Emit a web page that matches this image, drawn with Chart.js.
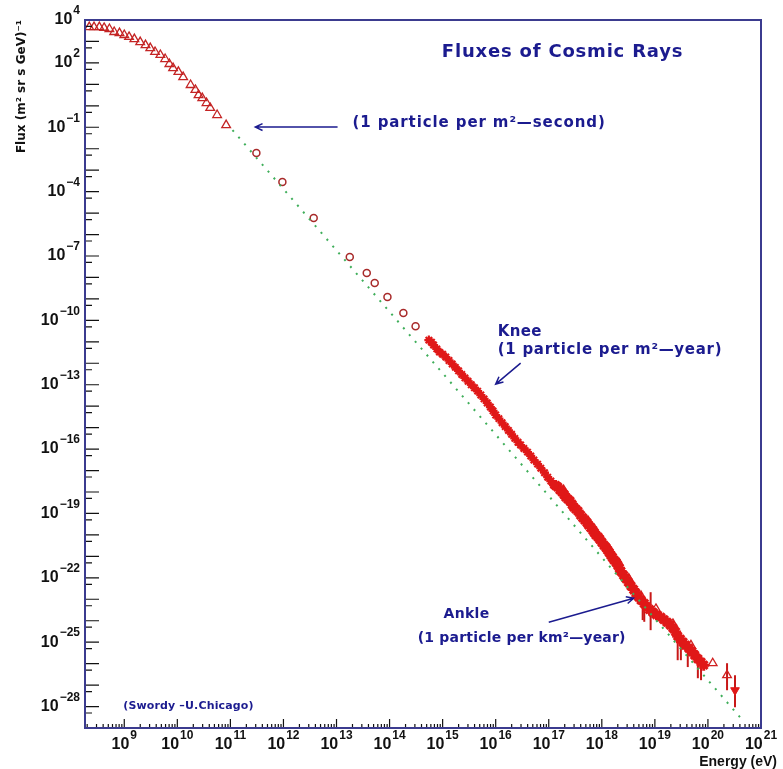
<!DOCTYPE html>
<html>
<head>
<meta charset="utf-8">
<title>Fluxes of Cosmic Rays</title>
<script src="https://cdn.jsdelivr.net/npm/chart.js@4.4.1/dist/chart.umd.min.js"></script>
<style>
  html, body { margin: 0; padding: 0; background: #fff; }
  canvas { display: block; }
</style>
</head>
<body>
<canvas id="fluxChart" width="783" height="769"></canvas>
<script>
// values are log10: energy in eV, flux in (m^2 sr s GeV)^-1

// low energy points (open triangles)
var lowTriLogE = [8.34, 8.43, 8.53, 8.62, 8.72, 8.81, 8.91, 9.00, 9.09, 9.19, 9.30, 9.40, 9.49, 9.58,
                  9.68, 9.77, 9.85, 9.92, 10.02, 10.11, 10.25, 10.34, 10.40, 10.47, 10.55, 10.62, 10.75, 10.92];
var lowTriLogF = [3.67, 3.67, 3.67, 3.63, 3.58, 3.44, 3.39, 3.30, 3.21, 3.11, 2.97, 2.83, 2.69, 2.51,
                  2.37, 2.18, 1.95, 1.76, 1.58, 1.34, 0.97, 0.74, 0.50, 0.36, 0.13, -0.10, -0.43, -0.90];

// direct measurements (open circles)
var circLogE = [11.49, 11.98, 12.57, 13.25, 13.57, 13.72, 13.96, 14.26, 14.49];
var circLogF = [-2.20, -3.55, -5.23, -7.05, -7.79, -8.26, -8.91, -9.66, -10.27];

// air shower data around the knee (stars)
var starLogE = [14.74, 14.79, 14.83, 14.89, 14.94, 15.00, 15.06, 15.12, 15.18, 15.24, 15.30, 15.36, 15.42,
                15.48, 15.54, 15.60, 15.66, 15.72, 15.78, 15.84, 15.90, 15.95, 16.00, 16.06, 16.12, 16.18,
                16.24, 16.30, 16.36, 16.42, 16.47, 16.53, 16.60, 16.66, 16.72, 16.79, 16.85, 16.92, 16.98,
                17.04, 17.09];
var starLogF = [-10.92, -11.02, -11.15, -11.33, -11.48, -11.58, -11.71, -11.87, -12.03, -12.19, -12.35, -12.52, -12.68,
                -12.84, -13.00, -13.14, -13.30, -13.48, -13.66, -13.85, -14.04, -14.22, -14.41, -14.58, -14.77, -14.95,
                -15.13, -15.31, -15.50, -15.68, -15.81, -15.97, -16.14, -16.32, -16.51, -16.70, -16.89, -17.10, -17.31,
                -17.49, -17.68];

// dense band up to the ankle
var bandLogE = [17.13, 17.17, 17.21, 17.25, 17.29, 17.32, 17.36, 17.40, 17.44, 17.47, 17.51, 17.55, 17.60,
                17.64, 17.68, 17.72, 17.75, 17.79, 17.83, 17.86, 17.89, 17.93, 17.96, 18.00, 18.04, 18.08,
                18.11, 18.14, 18.17, 18.20, 18.23, 18.27, 18.30, 18.33, 18.36, 18.41, 18.45, 18.50, 18.55,
                18.60, 18.64, 18.69, 18.74, 18.80, 18.85, 18.90, 18.96, 19.03, 19.11, 19.17, 19.23, 19.29,
                19.34, 19.39, 19.43, 19.48, 19.53, 19.58, 19.64, 19.70, 19.75, 19.81, 19.87, 19.92];
var bandLogF = [-17.70, -17.77, -17.90, -18.00, -18.12, -18.24, -18.33, -18.42, -18.58, -18.70, -18.80, -18.89, -19.08,
                -19.20, -19.31, -19.42, -19.54, -19.66, -19.78, -19.90, -20.01, -20.10, -20.20, -20.34, -20.48, -20.60,
                -20.71, -20.82, -20.94, -21.05, -21.17, -21.28, -21.41, -21.55, -21.70, -21.88, -22.02, -22.20, -22.38,
                -22.55, -22.71, -22.88, -23.04, -23.20, -23.37, -23.48, -23.60, -23.72, -23.83, -23.95, -24.07, -24.20,
                -24.34, -24.52, -24.72, -24.86, -25.00, -25.14, -25.28, -25.44, -25.60, -25.78, -25.93, -26.07];

// open triangles on the band and at the highest energies
var hiTriLogE = [17.28, 17.74, 17.85, 18.02, 18.13, 18.32, 18.51, 18.74, 19.02, 19.34, 19.68, 20.09, 20.36];
var hiTriLogF = [-17.91, -19.35, -19.70, -20.30, -20.62, -21.30, -22.05, -22.85, -23.45, -24.15, -25.15, -25.98, -26.54];

// last point (filled, down)
var lastLogE = [20.51];
var lastLogF = [-27.24];

// error bars
var errLogE  = [18.77, 18.80, 18.92, 19.43, 19.49, 19.62, 19.81, 19.87, 20.36, 20.51];
var errLogLo = [-23.97, -24.05, -24.44, -25.84, -25.84, -26.16, -26.68, -26.77, -27.24, -28.03];
var errLogHi = [-23.41, -22.95, -22.67, -24.77, -24.90, -25.23, -25.51, -25.84, -25.98, -26.54];

// green power law guide
var guideLogE = [11.04, 20.64];
var guideLogF = [-1.13, -28.60];

// axes
var xLabelExps = [9, 10, 11, 12, 13, 14, 15, 16, 17, 18, 19, 20, 21];
var yLabelExps = [4, 2, -1, -4, -7, -10, -13, -16, -19, -22, -25, -28];
var xMinExp = 8.26, xMaxExp = 21;
var yMinExp = -29, yMaxExp = 4;

var NAVY = '#1b1b8f';
var RED = '#e01818';
var BASE_FONT = 'bold 16px "Liberation Sans", "DejaVu Sans"';
var EXP_FONT = 'bold 12px "Liberation Sans", "DejaVu Sans"';

function toPoints(logE, logF) {
    var pts = [];
    for (var i = 0; i < logE.length; i++) {
        pts.push({x: Math.pow(10, logE[i]), y: Math.pow(10, logF[i])});
    }
    return pts;
}

// text notes, placed in data coordinates (log10 E, log10 F)
var notes = [
    {text: 'Fluxes of Cosmic Rays', e: 17.26, f: 2.51, align: 'center', font: 'bold 18px "DejaVu Sans"', spacing: 0.8},
    {text: '(1 particle per m\u00b2\u2014second)', e: 13.30, f: -0.80, align: 'left', font: 'bold 15px "DejaVu Sans"', spacing: 0.9},
    {text: 'Knee', e: 16.04, f: -10.55, align: 'left', font: 'bold 15px "DejaVu Sans"', spacing: 0.3},
    {text: '(1 particle per m\u00b2\u2014year)', e: 16.04, f: -11.38, align: 'left', font: 'bold 15px "DejaVu Sans"', spacing: 0.7},
    {text: 'Ankle', e: 15.45, f: -23.69, align: 'center', font: 'bold 14px "DejaVu Sans"', spacing: 0.3},
    {text: '(1 particle per km\u00b2\u2014year)', e: 16.49, f: -24.81, align: 'center', font: 'bold 14px "DejaVu Sans"', spacing: 0.2},
    {text: '(Swordy \u2013U.Chicago)', e: 8.98, f: -27.98, align: 'left', font: 'bold 11px "DejaVu Sans"', spacing: 0.15}
];

var arrows = [
    {e0: 13.02, f0: -0.99, e1: 11.47, f1: -0.99},
    {e0: 16.47, f0: -11.99, e1: 16.00, f1: -12.97},
    {e0: 17.00, f0: -24.07, e1: 18.60, f1: -22.95}
];

// "10" with a raised exponent
function drawPower(ctx, exp, x, y, align) {
    var sup = String(exp).replace('-', '\u2212');
    ctx.font = BASE_FONT;
    var wb = ctx.measureText('10').width;
    ctx.font = EXP_FONT;
    var ws = ctx.measureText(sup).width;
    var x0 = align === 'right' ? x - wb - ws - 1 : x - (wb + ws + 1) / 2;
    ctx.font = BASE_FONT;
    ctx.fillText('10', x0, y);
    ctx.font = EXP_FONT;
    ctx.fillText(sup, x0 + wb + 1, y - 9);
}

var errorBars = {
    id: 'errorBars',
    beforeDatasetsDraw: function (chart) {
        var ctx = chart.ctx, xs = chart.scales.x, ys = chart.scales.y;
        ctx.save();
        ctx.strokeStyle = '#c81818';
        ctx.lineWidth = 2;
        for (var i = 0; i < errLogE.length; i++) {
            var px = xs.getPixelForValue(Math.pow(10, errLogE[i]));
            ctx.beginPath();
            ctx.moveTo(px, ys.getPixelForValue(Math.pow(10, errLogHi[i])));
            ctx.lineTo(px, ys.getPixelForValue(Math.pow(10, errLogLo[i])));
            ctx.stroke();
        }
        ctx.restore();
    }
};

var frameAndNotes = {
    id: 'frameAndNotes',
    afterDatasetsDraw: function (chart) {
        var ctx = chart.ctx, a = chart.chartArea, xs = chart.scales.x, ys = chart.scales.y;
        ctx.save();

        // tick marks drawn inside the frame
        ctx.strokeStyle = '#111';
        ctx.lineWidth = 1.2;
        ctx.beginPath();
        for (var e = yMinExp; e <= yMaxExp; e++) {
            var py = ys.getPixelForValue(Math.pow(10, e));
            ctx.moveTo(a.left, py);
            ctx.lineTo(a.left + 14, py);
            if (e > yMinExp) {
                var ps = ys.getPixelForValue(5 * Math.pow(10, e - 1));
                ctx.moveTo(a.left, ps);
                ctx.lineTo(a.left + 7, ps);
            }
        }
        for (var d = 8; d <= 21; d++) {
            for (var k = 1; k <= 9; k++) {
                var v = k * Math.pow(10, d);
                if (v < xs.min || v > xs.max) continue;
                var px = xs.getPixelForValue(v);
                ctx.moveTo(px, a.bottom);
                ctx.lineTo(px, a.bottom - (k == 1 ? 9 : 4));
            }
        }
        ctx.stroke();

        // frame
        ctx.strokeStyle = '#3b3b8f';
        ctx.lineWidth = 2;
        ctx.strokeRect(a.left, a.top, a.right - a.left, a.bottom - a.top);

        // tick labels
        ctx.fillStyle = '#111';
        ctx.textAlign = 'left';
        ctx.textBaseline = 'middle';
        yLabelExps.forEach(function (e) {
            drawPower(ctx, e, a.left - 5, ys.getPixelForValue(Math.pow(10, e)), 'right');
        });
        xLabelExps.forEach(function (e) {
            drawPower(ctx, e, xs.getPixelForValue(Math.pow(10, e)), a.bottom + 17, 'center');
        });

        // x axis title
        ctx.font = 'bold 14px "Liberation Sans"';
        ctx.textAlign = 'right';
        ctx.fillText('Energy (eV)', a.right + 16, a.bottom + 34);

        // notes
        ctx.fillStyle = NAVY;
        notes.forEach(function (n) {
            ctx.font = n.font;
            ctx.letterSpacing = n.spacing + 'px';
            ctx.textAlign = n.align;
            ctx.fillText(n.text, xs.getPixelForValue(Math.pow(10, n.e)), ys.getPixelForValue(Math.pow(10, n.f)));
        });
        ctx.letterSpacing = '0px';

        // arrows
        ctx.strokeStyle = NAVY;
        ctx.lineWidth = 1.5;
        arrows.forEach(function (ar) {
            var x0 = xs.getPixelForValue(Math.pow(10, ar.e0)), y0 = ys.getPixelForValue(Math.pow(10, ar.f0));
            var x1 = xs.getPixelForValue(Math.pow(10, ar.e1)), y1 = ys.getPixelForValue(Math.pow(10, ar.f1));
            var ang = Math.atan2(y1 - y0, x1 - x0);
            ctx.beginPath();
            ctx.moveTo(x0, y0);
            ctx.lineTo(x1, y1);
            ctx.moveTo(x1 - 8 * Math.cos(ang - 0.45), y1 - 8 * Math.sin(ang - 0.45));
            ctx.lineTo(x1, y1);
            ctx.lineTo(x1 - 8 * Math.cos(ang + 0.45), y1 - 8 * Math.sin(ang + 0.45));
            ctx.stroke();
        });
        ctx.restore();
    }
};

var ctx = document.getElementById('fluxChart');
var fluxChart = new Chart(ctx, {
    type: 'scatter',
    data: {
        datasets: [
            {
                type: 'line',
                data: toPoints(guideLogE, guideLogF),
                borderColor: '#3fae5a',
                borderWidth: 2,
                borderDash: [2, 7],
                pointRadius: 0,
                fill: false
            },
            {
                data: toPoints(lowTriLogE, lowTriLogF),
                pointStyle: 'triangle',
                pointRadius: 5,
                borderColor: '#c42424',
                borderWidth: 1.3,
                backgroundColor: 'rgba(255,255,255,0)'
            },
            {
                data: toPoints(circLogE, circLogF),
                pointStyle: 'circle',
                pointRadius: 3.5,
                borderColor: '#a82a2a',
                borderWidth: 1.5,
                backgroundColor: 'rgba(255,255,255,0)'
            },
            {
                data: toPoints(starLogE, starLogF),
                pointStyle: 'star',
                pointRadius: 4.5,
                borderColor: RED,
                borderWidth: 2.2,
                backgroundColor: RED
            },
            {
                data: toPoints(bandLogE, bandLogF),
                pointStyle: 'star',
                pointRadius: 5.5,
                borderColor: RED,
                borderWidth: 3,
                backgroundColor: RED
            },
            {
                data: toPoints(hiTriLogE, hiTriLogF),
                pointStyle: 'triangle',
                pointRadius: 5,
                borderColor: '#d02020',
                borderWidth: 1.3,
                backgroundColor: 'rgba(255,255,255,0)'
            },
            {
                data: toPoints(lastLogE, lastLogF),
                pointStyle: 'triangle',
                rotation: 180,
                pointRadius: 5,
                borderColor: RED,
                borderWidth: 1,
                backgroundColor: RED
            }
        ]
    },
    options: {
        responsive: false,
        devicePixelRatio: 1,
        animation: false,
        layout: {
            padding: {top: 20, right: 22, left: 0, bottom: 0}
        },
        plugins: {
            legend: {display: false},
            tooltip: {enabled: false}
        },
        scales: {
            x: {
                type: 'logarithmic',
                min: Math.pow(10, xMinExp),
                max: Math.pow(10, xMaxExp),
                afterBuildTicks: function (scale) {
                    scale.ticks = xLabelExps.map(function (e) { return {value: Math.pow(10, e)}; });
                },
                afterFit: function (scale) { scale.height = 41; },
                grid: {display: false},
                border: {display: false},
                ticks: {display: false}
            },
            y: {
                type: 'logarithmic',
                min: Math.pow(10, yMinExp),
                max: Math.pow(10, yMaxExp),
                afterBuildTicks: function (scale) {
                    scale.ticks = yLabelExps.map(function (e) { return {value: Math.pow(10, e)}; });
                },
                afterFit: function (scale) { scale.width = 85; },
                grid: {display: false},
                border: {display: false},
                ticks: {display: false},
                title: {
                    display: true,
                    text: 'Flux (m\u00b2 sr s GeV)\u207b\u00b9',
                    align: 'end',
                    color: '#111',
                    padding: {top: 15, bottom: 0},
                    font: {family: '"DejaVu Sans"', size: 12, weight: 'bold'}
                }
            }
        }
    },
    plugins: [errorBars, frameAndNotes]
});
</script>
</body>
</html>
